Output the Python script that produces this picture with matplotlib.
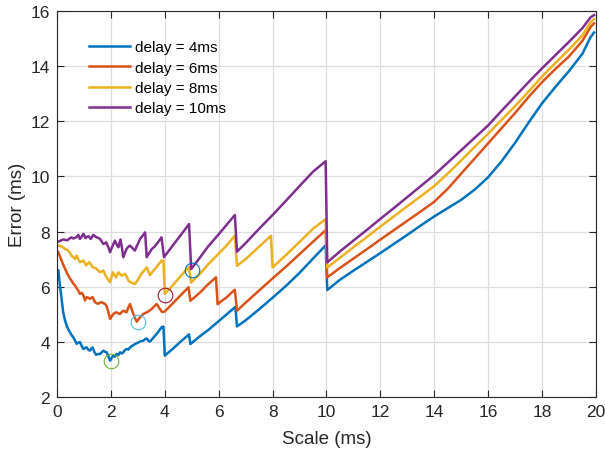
import matplotlib
matplotlib.use("Agg")
import matplotlib.pyplot as plt

# --- data ---
x_4ms = [0.05, 0.11, 0.17, 0.23, 0.3, 0.36, 0.42, 0.48, 0.54, 0.6, 0.67, 0.73, 0.79, 0.85, 0.92,
         0.98, 1.04, 1.1, 1.16, 1.22, 1.28, 1.32, 1.38, 1.45, 1.53, 1.6, 1.66, 1.72, 1.78, 1.84,
         1.9, 1.97, 2.03, 2.09, 2.15, 2.21, 2.28, 2.34, 2.4, 2.46, 2.52, 2.58, 2.65, 2.71, 2.8,
         2.9, 3.02, 3.1, 3.2, 3.27, 3.33, 3.4, 3.45, 3.55, 3.64, 3.75, 3.88, 3.95, 4.0, 4.3,
         4.6, 4.9, 4.95, 5.3, 5.6, 6.0, 6.3, 6.62, 6.68, 7.0, 7.5, 8.0, 8.5, 9.0, 9.5, 9.97,
         10.03, 10.5, 11.0, 11.5, 12.0, 12.5, 13.0, 13.5, 14.0, 14.5, 15.0, 15.5, 16.0, 16.5,
         17.0, 17.5, 18.0, 18.5, 19.0, 19.5, 19.8, 19.93]
y_4ms = [6.59, 6.04, 5.56, 5.07, 4.77, 4.59, 4.45, 4.35, 4.25, 4.17, 4.05, 3.93, 3.97, 3.99, 3.85,
         3.74, 3.78, 3.8, 3.72, 3.68, 3.76, 3.8, 3.65, 3.53, 3.56, 3.56, 3.62, 3.68, 3.64, 3.62,
         3.5, 3.32, 3.42, 3.5, 3.46, 3.56, 3.52, 3.62, 3.58, 3.62, 3.7, 3.74, 3.72, 3.8, 3.86,
         3.92, 3.98, 4.02, 4.04, 4.1, 4.12, 4.03, 4.01, 4.12, 4.22, 4.35, 4.53, 4.55, 3.5, 3.75,
         4.02, 4.27, 3.92, 4.2, 4.42, 4.75, 5.0, 5.27, 4.56, 4.78, 5.18, 5.6, 6.03, 6.5, 7.02, 7.5,
         5.88, 6.25, 6.58, 6.9, 7.22, 7.55, 7.88, 8.22, 8.55, 8.85, 9.15, 9.52, 9.97, 10.55,
         11.22, 11.95, 12.65, 13.25, 13.82, 14.45, 15.05, 15.22]

x_6ms = [0.05, 0.11, 0.17, 0.23, 0.3, 0.36, 0.42, 0.48, 0.54, 0.6, 0.67, 0.73, 0.79, 0.85, 0.92,
         0.98, 1.04, 1.1, 1.16, 1.22, 1.28, 1.32, 1.38, 1.41, 1.47, 1.53, 1.6, 1.66, 1.72, 1.78,
         1.84, 1.9, 1.97, 2.03, 2.09, 2.15, 2.21, 2.28, 2.34, 2.4, 2.46, 2.52, 2.58, 2.65, 2.71,
         2.8, 2.9, 2.96, 3.05, 3.14, 3.22, 3.33, 3.42, 3.51, 3.6, 3.7, 3.8, 3.9, 4.0, 4.3, 4.6,
         4.88, 4.95, 5.3, 5.6, 5.9, 5.96, 6.3, 6.6, 6.68, 7.0, 7.5, 8.0, 8.5, 9.0, 9.5, 9.97,
         10.03, 10.5, 11.0, 11.5, 12.0, 12.5, 13.0, 13.5, 14.0, 14.5, 15.0, 15.5, 16.0, 16.5,
         17.0, 17.5, 18.0, 18.5, 19.0, 19.5, 19.8, 19.93]
y_6ms = [7.25, 7.1, 6.95, 6.8, 6.65, 6.52, 6.4, 6.3, 6.22, 6.12, 6.04, 5.95, 5.86, 5.74, 5.78,
         5.68, 5.5, 5.62, 5.6, 5.56, 5.6, 5.62, 5.5, 5.44, 5.4, 5.38, 5.42, 5.44, 5.4, 5.38,
         5.3, 5.1, 4.83, 4.92, 5.01, 5.05, 5.07, 5.03, 5.01, 5.08, 5.13, 5.1, 5.07, 5.25, 5.37,
         5.1, 4.85, 4.73, 4.85, 4.95, 5.02, 5.07, 5.12, 5.19, 5.28, 5.37, 5.22, 5.08, 5.1, 5.4, 5.7,
         5.98, 5.49, 5.78, 6.08, 6.34, 5.37, 5.62, 5.89, 5.13, 5.42, 5.86, 6.3, 6.73, 7.18, 7.63, 8.05,
         6.34, 6.68, 7.02, 7.36, 7.71, 8.05, 8.39, 8.73, 9.08, 9.55, 10.1, 10.65, 11.2, 11.75,
         12.3, 12.88, 13.42, 13.9, 14.35, 14.92, 15.42, 15.55]

x_8ms = [0.05, 0.11, 0.17, 0.23, 0.3, 0.36, 0.42, 0.48, 0.54, 0.6, 0.67, 0.73, 0.79, 0.85, 0.92,
         0.98, 1.04, 1.08, 1.14, 1.2, 1.26, 1.32, 1.4, 1.47, 1.53, 1.6, 1.66, 1.72, 1.78, 1.84,
         1.9, 1.97, 2.02, 2.07, 2.13, 2.19, 2.24, 2.28, 2.34, 2.4, 2.46, 2.53, 2.6, 2.65, 2.75,
         2.9, 3.0, 3.1, 3.2, 3.33, 3.45, 3.55, 3.7, 3.88, 3.95, 4.0, 4.3, 4.6, 4.9, 4.98, 5.3,
         5.6, 6.0, 6.3, 6.6, 6.68, 7.0, 7.5, 7.94, 8.0, 8.5, 9.0, 9.5, 9.97,
         10.03, 10.5, 11.0, 11.5, 12.0, 12.5, 13.0, 13.5, 14.0, 14.5, 15.0, 15.5, 16.0, 16.5,
         17.0, 17.5, 18.0, 18.5, 19.0, 19.5, 19.8, 19.93]
y_8ms = [7.49, 7.48, 7.46, 7.42, 7.37, 7.34, 7.31, 7.22, 7.13, 7.07, 7.01, 7.13, 7.0, 6.89, 6.92,
         6.95, 6.85, 6.77, 6.83, 6.89, 6.8, 6.71, 6.68, 6.65, 6.58, 6.52, 6.55, 6.59, 6.45, 6.34,
         6.25, 6.16, 6.35, 6.52, 6.42, 6.34, 6.44, 6.52, 6.46, 6.4, 6.43, 6.46, 6.35, 6.22, 6.15,
         6.1, 6.25, 6.42, 6.55, 6.7, 6.42, 6.55, 6.72, 6.94, 6.95, 5.74, 6.05, 6.4, 6.72, 6.15, 6.46,
         6.8, 7.2, 7.5, 7.85, 6.76, 7.0, 7.45, 7.85, 6.7, 7.15, 7.62, 8.1, 8.45,
         6.7, 7.05, 7.43, 7.8, 8.18, 8.55, 8.92, 9.28, 9.65, 10.1, 10.58, 11.07, 11.55, 12.05,
         12.55, 13.08, 13.62, 14.12, 14.6, 15.12, 15.59, 15.7]

x_10ms = [0.05, 0.11, 0.17, 0.23, 0.3, 0.36, 0.42, 0.48, 0.54, 0.6, 0.67, 0.73, 0.79, 0.85, 0.92,
          0.98, 1.06, 1.1, 1.16, 1.22, 1.25, 1.3, 1.35, 1.41, 1.47, 1.53, 1.6, 1.66, 1.72, 1.78,
          1.82, 1.9, 1.97, 2.05, 2.15, 2.22, 2.28, 2.32, 2.36, 2.42, 2.46, 2.52, 2.58, 2.65, 2.71,
          2.8, 2.89, 3.0, 3.08, 3.18, 3.27, 3.33, 3.42, 3.52, 3.62, 3.7, 3.8, 3.88, 3.97, 4.3, 4.6,
          4.9, 4.98, 5.3, 5.6, 6.0, 6.3, 6.6, 6.68, 7.0, 7.5, 8.0, 8.5, 9.0, 9.5, 9.97,
          10.03, 10.5, 11.0, 11.5, 12.0, 12.5, 13.0, 13.5, 14.0, 14.5, 15.0, 15.5, 16.0, 16.5,
          17.0, 17.5, 18.0, 18.5, 19.0, 19.5, 19.8, 19.93]
y_10ms = [7.64, 7.66, 7.69, 7.71, 7.7, 7.68, 7.71, 7.76, 7.79, 7.75, 7.77, 7.8, 7.88, 7.73, 7.82,
          7.92, 7.76, 7.8, 7.83, 7.78, 7.73, 7.8, 7.88, 7.83, 7.79, 7.77, 7.73, 7.64, 7.55, 7.58,
          7.61, 7.45, 7.25, 7.45, 7.67, 7.52, 7.43, 7.6, 7.71, 7.35, 7.07, 7.22, 7.37, 7.45, 7.49,
          7.4, 7.31, 7.55, 7.73, 7.85, 7.97, 7.07, 7.22, 7.37, 7.45, 7.55, 7.68, 7.79, 7.07, 7.5, 7.88,
          8.27, 6.64, 7.05, 7.45, 7.9, 8.25, 8.6, 7.27, 7.58, 8.1, 8.6, 9.12, 9.65, 10.17, 10.55,
          6.88, 7.28, 7.67, 8.06, 8.46, 8.85, 9.25, 9.65, 10.05, 10.5, 10.95, 11.4, 11.85, 12.38,
          12.9, 13.42, 13.92, 14.4, 14.88, 15.38, 15.77, 15.85]

# highlighted points (open circles)
mark_x = [2, 3, 4, 5]
mark_y = [3.3, 4.72, 5.7, 6.6]
mark_colors = ["#77AC30", "#4DBEEE", "#A2142F", "#0072BD"]

series = [
    (x_4ms, y_4ms, "delay = 4ms", "#0072BD"),
    (x_6ms, y_6ms, "delay = 6ms", "#D95319"),
    (x_8ms, y_8ms, "delay = 8ms", "#EDB120"),
    (x_10ms, y_10ms, "delay = 10ms", "#7E2F8E"),
]

plt.rcParams["font.family"] = ["Liberation Sans", "DejaVu Sans"]

fig = plt.figure(figsize=(6.05, 4.52), dpi=100)
ax = fig.add_axes([0.0942, 0.1195, 0.8908, 0.854])

for xs, ys, lab, col in series:
    ax.plot(xs, ys, color=col, lw=1.8, label=lab)

for mx, my, mc in zip(mark_x, mark_y, mark_colors):
    ax.plot(mx, my, "o", mfc="none", mec=mc, ms=10.5, mew=0.8)

ax.set_xlim(0, 20)
ax.set_ylim(2, 16)
ax.set_xticks(range(0, 21, 2))
ax.set_yticks(range(2, 17, 2))
ax.grid(True, color="#dedede", lw=0.9)
ax.set_axisbelow(True)
for s in ax.spines.values():
    s.set_color("#262626")
    s.set_linewidth(0.8)
ax.tick_params(direction="in", top=True, right=True, length=5, width=0.8,
               color="#262626", labelsize=12.5, labelcolor="#262626", pad=5)
ax.set_xlabel("Scale (ms)", fontsize=13.5, color="#262626", labelpad=8)
ax.set_ylabel("Error (ms)", fontsize=13.5, color="#262626", labelpad=3.5)

ax.legend(loc="upper left", bbox_to_anchor=(0.039, 0.952), frameon=False, fontsize=11,
          handlelength=2.7, handletextpad=0.3, labelspacing=0.42, borderpad=0.2)

fig.savefig("out.png", dpi=100)
